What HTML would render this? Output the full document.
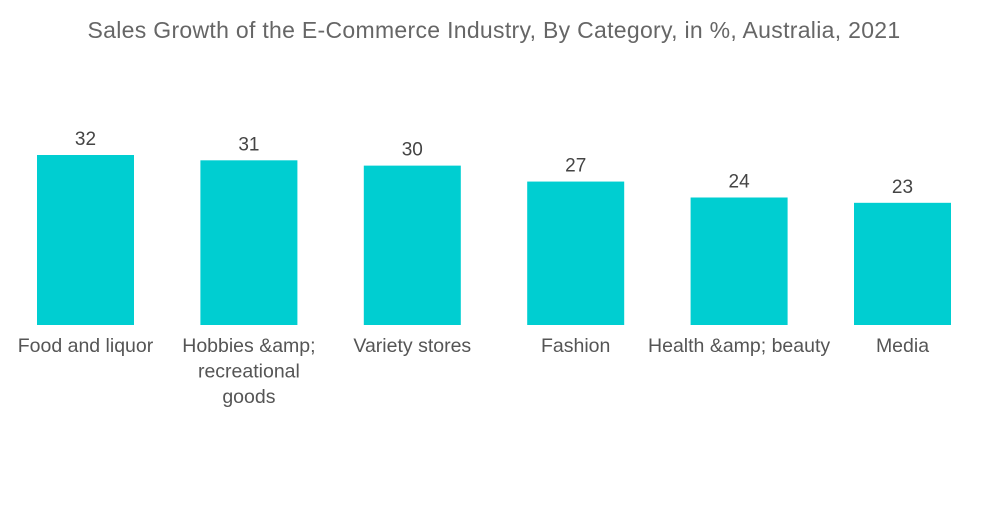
<!DOCTYPE html>
<html><head><meta charset="utf-8"><style>
html,body{margin:0;padding:0;background:#fff;}
body{width:1000px;height:504px;overflow:hidden;font-family:"Liberation Sans",sans-serif;}
</style></head><body>
<svg id="chart" width="1000" height="504">
<text x="494" y="38" text-anchor="middle" font-size="23" letter-spacing="0.3" fill="#666">Sales Growth of the E-Commerce Industry, By Category, in %, Australia, 2021</text>
<g id="bars"></g>
</svg>
<script>
const categories=[["Food and liquor"],["Hobbies &amp;","recreational","goods"],["Variety stores"],["Fashion"],["Health &amp; beauty"],["Media"]];
const values=[32,31,30,27,24,23];
const valueLabels=["32","31","30","27","24","23"];
const base=325, scale=170/32, x0=85.5, step=163.4, bw=97;
const yPos=v=>base-v*scale;
const xPos=i=>x0+i*step;
const g=document.getElementById('bars');
const NS="http://www.w3.org/2000/svg";
values.forEach((v,i)=>{
  const cx=xPos(i);
  const r=document.createElementNS(NS,'rect');
  r.setAttribute('x',cx-bw/2);r.setAttribute('y',yPos(v));
  r.setAttribute('width',bw);r.setAttribute('height',base-yPos(v));
  r.setAttribute('fill','#00CED1');
  
  
  g.appendChild(r);
  const t=document.createElementNS(NS,'text');
  t.setAttribute('x',cx);t.setAttribute('y',yPos(v)-10);
  t.setAttribute('text-anchor','middle');t.setAttribute('font-size','19');t.setAttribute('fill','#444');
  t.textContent=valueLabels[i];
  
  
  g.appendChild(t);
  categories[i].forEach((line,j)=>{
    const c=document.createElementNS(NS,'text');
    c.setAttribute('x',cx);c.setAttribute('y',352+j*25.5);
    c.setAttribute('text-anchor','middle');c.setAttribute('font-size','19.5');c.setAttribute('fill','#555');
    c.textContent=line;
    
    
    g.appendChild(c);
  });
});
</script>
</body></html>
